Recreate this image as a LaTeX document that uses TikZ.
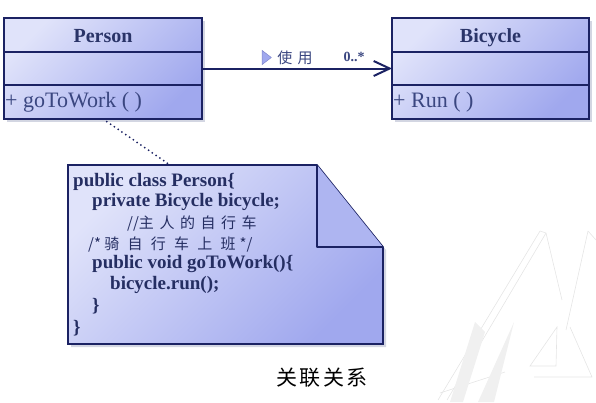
\documentclass[tikz,border=0pt]{standalone}
\usepackage{fontspec}
\setmainfont{Liberation Serif}
\newfontfamily\cjk{Noto Sans CJK SC}
\usetikzlibrary{arrows.meta,shapes.geometric,shadows}
\definecolor{umlborder}{HTML}{1B2263}
\definecolor{umllight}{HTML}{E0E3FA}
\definecolor{umldark}{HTML}{A0A8EE}
\definecolor{umltext}{HTML}{3A4680}
\definecolor{umlhead}{HTML}{2A3468}
\definecolor{umlshadow}{HTML}{D3D6E2}
\definecolor{notetext}{HTML}{252E62}
\tikzset{
  classbg/.style={inner sep=0pt, outer sep=0pt, shade, top color=umllight, bottom color=umldark, shading angle=45,
     drop shadow={shadow xshift=3pt, shadow yshift=-3pt, fill=umlshadow, opacity=1}},
  comp/.style={draw=umlborder, line width=1.6pt, inner sep=0pt, outer sep=0pt, minimum width=198pt},
  headtxt/.style={text=umlhead, font=\fontsize{20}{22}\selectfont\bfseries, text height=18pt, text depth=3pt},
  optxt/.style={text=umltext, font=\fontsize{22}{24}\selectfont, anchor=west, inner sep=1pt},
  assoc/.style={draw=umlborder, line width=2pt, -{Straight Barb[length=16pt, width=15pt, line width=2pt]}},
  lbl/.style={text=umltext, inner sep=0pt},
  notetxt/.style={text=notetext, anchor=base west, inner sep=0pt, font=\fontsize{19}{21}\selectfont\bfseries},
  notecjk/.style={text=notetext, anchor=base west, inner sep=0pt, font=\fontsize{15}{17}\cjk},
  dirtri/.style={isosceles triangle, isosceles triangle apex angle=75, fill=umldark, draw=umldark!75!umlborder, line width=0.5pt, minimum height=9pt, minimum width=14pt, inner sep=0pt}
}
\begin{document}
\begin{tikzpicture}[x=1pt,y=-1pt]
\useasboundingbox (0,0) rectangle (596,402);
% faint watermark
\begin{scope}[draw=black!10, line width=0.6pt]
\draw (540,231) -- (438,400);
\draw (546,233) -- (447,400);
\draw (540,231) -- (546,233) -- (562,300);
\draw (588,231) -- (566,330);
\draw (588,231) -- (596,240);
\draw (557,327) -- (530,366) -- (556,366) -- cycle;
\draw (570,327) -- (592,377) -- (534,377);
\draw (440,393) -- (505,372);
\fill[black!6] (475,322) -- (450,402) -- (463,402) -- (485,332) -- cycle;
\fill[black!6] (514,322) -- (478,402) -- (494,402) -- cycle;
\end{scope}
% Person class
\node[classbg, minimum width=198pt, minimum height=101pt, anchor=north west] (person) at (4,18) {};
\node[comp, minimum height=34pt, anchor=north, headtxt] (p1) at (person.north) {Person};
\node[comp, minimum height=33pt, anchor=north] (p2) at (p1.south) {};
\node[comp, minimum height=34pt, anchor=north] (p3) at (p2.south) {};
\node[optxt] (pop) at (p3.west) {+ goToWork ( )};
% Bicycle class
\node[classbg, minimum width=197pt, minimum height=101pt, anchor=north west] (bicycle) at (392,18) {};
\node[comp, minimum width=197pt, minimum height=34pt, anchor=north, headtxt] (b1) at (bicycle.north) {Bicycle};
\node[comp, minimum width=197pt, minimum height=33pt, anchor=north] (b2) at (b1.south) {};
\node[comp, minimum width=197pt, minimum height=34pt, anchor=north] (b3) at (b2.south) {};
\node[optxt] (bop) at (b3.west) {+ Run ( )};
% association
\draw[assoc] (p2.east) --
  node[pos=0.335, yshift=11pt, dirtri] (dir) {}
  node[pos=0.49, yshift=11pt, lbl, font=\fontsize{15}{17}\cjk\addfontfeature{LetterSpace=35}] (use) {使用}
  node[pos=0.80, yshift=12pt, lbl, font=\fontsize{14}{16}\bfseries] (mult) {0..*}
  (b2.west);
% note
\node[minimum width=315pt, minimum height=179pt, anchor=north west, inner sep=0pt, outer sep=0pt] (note) at (68,165) {};
\shadedraw[draw=umlborder, line width=1.6pt, top color=umllight, bottom color=umldark, shading angle=45,
   drop shadow={shadow xshift=3pt, shadow yshift=-3pt, fill=umlshadow, opacity=1}]
  (note.north west) -- ([xshift=-66pt]note.north east) -- ([yshift=-82pt]note.north east)
  -- (note.south east) -- (note.south west) -- cycle;
\filldraw[fill=umldark!85!white, draw=umlborder, line width=1.6pt, line join=round]
  ([xshift=-66pt]note.north east) -- ([xshift=-66pt,yshift=-82pt]note.north east) -- ([yshift=-82pt]note.north east);
\coordinate (notepin) at ([xshift=102pt]note.north west);
\draw[umlborder, line width=2pt, line cap=round, dash pattern=on 0pt off 4.6pt] (p3.south) -- (notepin);
% note text
\node[notetxt] (t1) at (73,186) {public class Person\{};
\node[notetxt] (t2) at (92,206) {private Bicycle bicycle;};
\node[notecjk] (t3) at (127,228) {//\addfontfeature{LetterSpace=37}主人的自行车};
\node[notecjk] (t4) at (88,249) {/* \addfontfeature{LetterSpace=55}骑自行车上班\addfontfeature{LetterSpace=0}\hspace{4pt}*/};
\node[notetxt] (t5) at (92,268) {public void goToWork()\{};
\node[notetxt] (t6) at (110,289) {bicycle.run();};
\node[notetxt] (t7) at (92,311) {\}};
\node[notetxt] (t8) at (73,333) {\}};
% caption
\node[font=\fontsize{21}{23}\cjk\addfontfeature{LetterSpace=12}, text=black, inner sep=0pt] (cap) at (322,378) {关联关系};
\end{tikzpicture}
\end{document}
